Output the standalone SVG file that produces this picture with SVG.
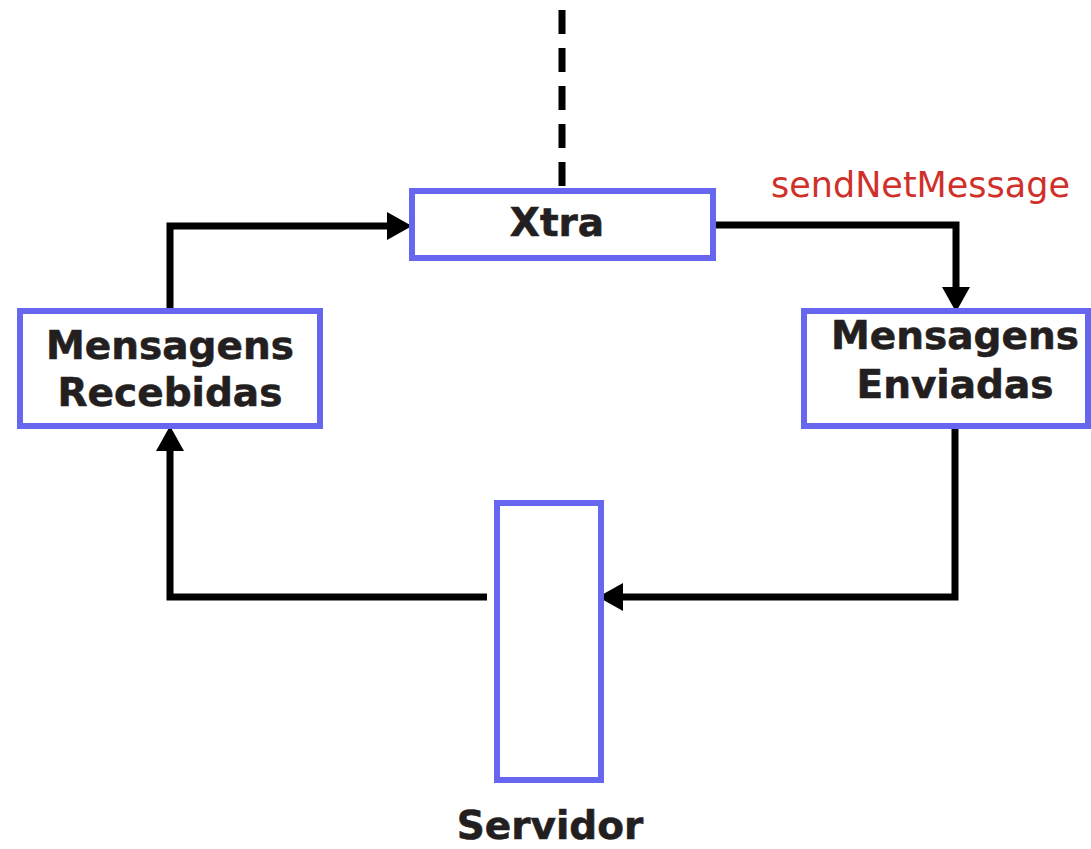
<svg xmlns="http://www.w3.org/2000/svg" width="1091" height="849" viewBox="0 0 1091 849">
  <style>
    .box { fill: #ffffff; stroke: #6666ee; stroke-width: 6; }
    .lbl { font-family: "DejaVu Sans", Verdana, sans-serif; font-weight: bold; font-size: 39px; fill: #231f20; stroke: #231f20; stroke-width: 0.6; text-anchor: middle; }
    .conn { fill: none; stroke: #000000; stroke-width: 7; stroke-linejoin: miter; }
    .head { fill: #000000; }
    .note { font-family: "DejaVu Sans", Verdana, sans-serif; font-size: 35px; fill: #d0302a; }
  </style>
  <rect width="1091" height="849" fill="#ffffff"/>

  <g id="connectors">
    <line x1="562" y1="10" x2="562" y2="188" stroke="#000000" stroke-width="7" stroke-dasharray="24 14"/>
    <path class="conn" d="M170,311 V226 H390"/>
    <polygon class="head" points="412,226 387,212 387,240"/>
    <path class="conn" d="M716,225 H956 V290"/>
    <polygon class="head" points="956,312 942,287 970,287"/>
    <path class="conn" d="M955,429 V597 H620"/>
    <polygon class="head" points="598,597 623,583 623,611"/>
    <path class="conn" d="M487,597 H170 V448"/>
    <polygon class="head" points="170,426 156,451 184,451"/>
    <text class="note" x="771" y="197">sendNetMessage</text>
  </g>

  <g id="xtra">
    <rect class="box" x="412" y="191" width="301" height="67"/>
    <text class="lbl" x="557" y="236">Xtra</text>
  </g>

  <g id="recebidas">
    <rect class="box" x="20" y="311" width="300" height="115"/>
    <text class="lbl" x="170" y="359">Mensagens</text>
    <text class="lbl" x="170" y="406">Recebidas</text>
  </g>

  <g id="enviadas">
    <rect class="box" x="804" y="311" width="284" height="115"/>
    <text class="lbl" x="955" y="349">Mensagens</text>
    <text class="lbl" x="955" y="398">Enviadas</text>
  </g>

  <g id="servidor">
    <rect class="box" x="497" y="503" width="104" height="277"/>
    <text class="lbl" x="550" y="839">Servidor</text>
  </g>
</svg>
